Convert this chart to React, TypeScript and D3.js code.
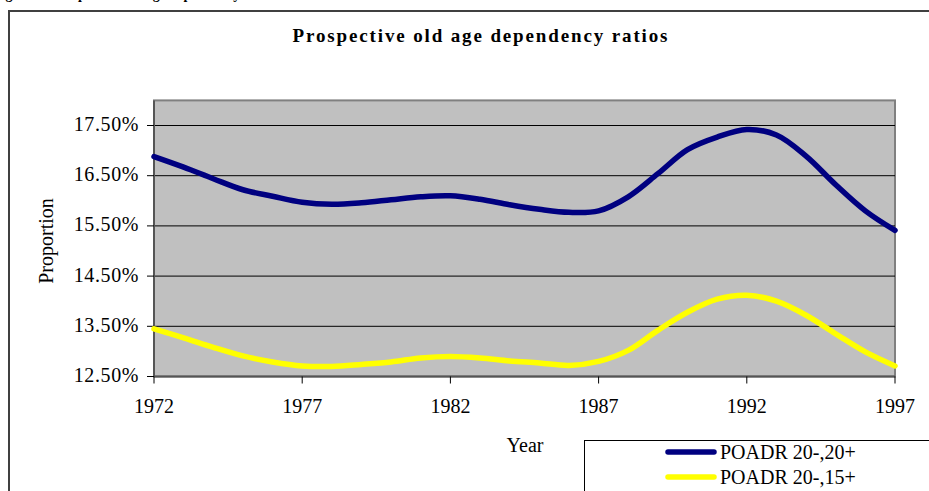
import React from "react";
import * as d3 from "d3";

const years = [1972, 1973, 1974, 1975, 1976, 1977, 1978, 1979, 1980, 1981, 1982, 1983, 1984,
  1985, 1986, 1987, 1988, 1989, 1990, 1991, 1992, 1993, 1994, 1995, 1996, 1997];

// Prospective old age dependency ratio, %
const poadr2020 = [16.88, 16.67, 16.44, 16.22, 16.09, 15.97, 15.93, 15.96, 16.02, 16.08, 16.10, 16.03, 15.92,
  15.83, 15.77, 15.80, 16.08, 16.54, 17.02, 17.27, 17.42, 17.31, 16.89, 16.32, 15.80, 15.41];
const poadr2015 = [13.45, 13.27, 13.08, 12.91, 12.79, 12.71, 12.70, 12.74, 12.79, 12.87, 12.90, 12.87, 12.81,
  12.77, 12.72, 12.80, 13.02, 13.42, 13.78, 14.04, 14.12, 14.00, 13.72, 13.35, 12.99, 12.71];

const yTicks = [12.5, 13.5, 14.5, 15.5, 16.5, 17.5];
const xTicks = [1972, 1977, 1982, 1987, 1992, 1997];

const seriesNames = ["POADR 20-,20+", "POADR 20-,15+"];
const seriesColors = ["#000080", "#FFFF00"];

const W = 929;
const H = 491;
const serif = "'Liberation Serif', 'Times New Roman', serif";

export default function App() {
  const x = d3.scaleLinear().domain([1972, 1997]).range([154, 895]);
  const y = d3.scaleLinear().domain([12.5, 18]).range([376.5, 100.4]);

  const line = d3
    .line<number>()
    .x((_, i) => x(years[i]))
    .y((d) => y(d))
    .curve(d3.curveCatmullRom.alpha(0.5));

  const series = [poadr2020, poadr2015];
  const [x0, x1] = x.range();
  const yTop = y(18);
  const yBot = y(12.5);

  return (
    <div style={{ position: "absolute", left: 0, top: 0 }}>
      <svg width={W} height={H} style={{ display: "block", background: "#fff" }} fontFamily={serif}>
        {/* caption above the chart frame, mostly out of view */}
        <text x={-7} y={-1} fontSize={14} fontWeight="bold" fill="#000">
          Figure 4: Prospective old age dependency ratios
        </text>

        {/* chart frame */}
        <path d={`M9,${H + 5} V11 H${W + 5}`} fill="none" stroke="#404040" strokeWidth={2} />

        <text x={480} y={42} fontSize={19} fontWeight="bold" textAnchor="middle" textLength={375} lengthAdjust="spacing">
          Prospective old age dependency ratios
        </text>

        {/* plot area */}
        <rect x={x0} y={yTop} width={x1 - x0} height={yBot - yTop} fill="#C0C0C0" stroke="#808080" strokeWidth={2} />
        {yTicks.slice(1).map((t) => (
          <line key={t} x1={x0} x2={x1} y1={y(t)} y2={y(t)} stroke="#000" strokeWidth={1} />
        ))}

        {/* axes */}
        <line x1={x0} x2={x0} y1={yTop} y2={yBot} stroke="#555" strokeWidth={2} />
        <line x1={x0} x2={x1} y1={yBot} y2={yBot} stroke="#555" strokeWidth={2} />
        {yTicks.map((t) => (
          <g key={t}>
            <line x1={x0 - 7} x2={x0} y1={y(t)} y2={y(t)} stroke="#000" strokeWidth={1} />
            <text x={139} y={y(t) + 5.5} fontSize={20} textAnchor="end" letterSpacing={0.6}>
              {t.toFixed(2)}%
            </text>
          </g>
        ))}
        {xTicks.map((t) => (
          <g key={t}>
            <line x1={x(t)} x2={x(t)} y1={yBot} y2={yBot + 7} stroke="#000" strokeWidth={1} />
            <text x={x(t)} y={413} fontSize={20} textAnchor="middle">
              {t}
            </text>
          </g>
        ))}

        <text transform="translate(53,241) rotate(-90)" fontSize={20} textAnchor="middle">
          Proportion
        </text>
        <text x={525} y={452} fontSize={20} textAnchor="middle">
          Year
        </text>

        {/* series */}
        {series.map((s, i) => (
          <path key={i} d={line(s) ?? ""} fill="none" stroke={seriesColors[i]} strokeWidth={5.5} strokeLinejoin="round" strokeLinecap="round" />
        ))}

        {/* legend */}
        <rect x={584.5} y={440.5} width={W} height={H} fill="#fff" stroke="#000" strokeWidth={1} />
        {seriesNames.map((name, i) => (
          <g key={name}>
            <line x1={668} x2={714} y1={452 + i * 25} y2={452 + i * 25} stroke={seriesColors[i]} strokeWidth={5.5} strokeLinecap="round" />
            <text x={720} y={459 + i * 25} fontSize={20}>
              {name}
            </text>
          </g>
        ))}
      </svg>
    </div>
  );
}
